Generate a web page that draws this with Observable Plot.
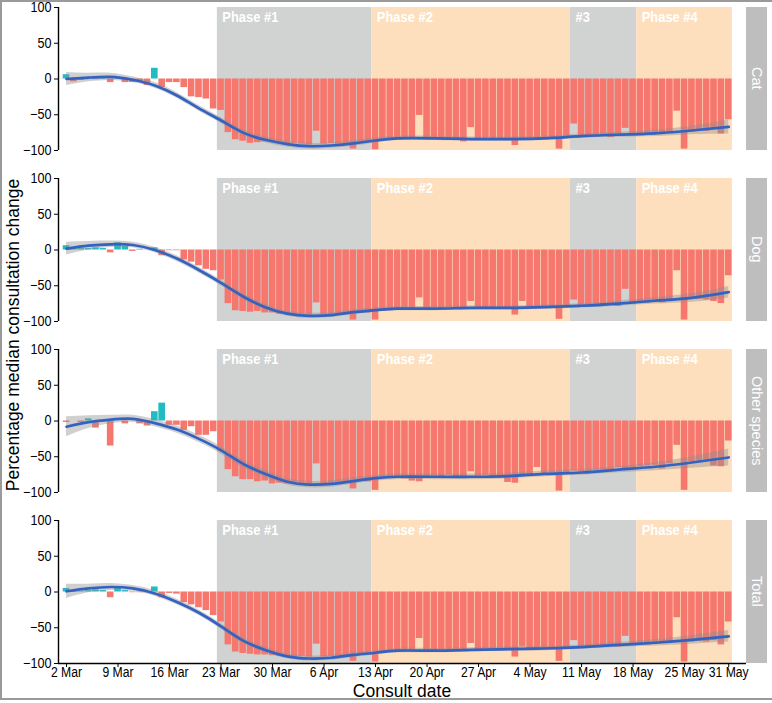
<!DOCTYPE html>
<html><head><meta charset="utf-8">
<script src="https://cdn.jsdelivr.net/npm/d3@7"></script>
<script src="https://cdn.jsdelivr.net/npm/@observablehq/plot@0.6"></script>
<style>
body{margin:0;background:#fff;font-family:"Liberation Sans",Arial,Helvetica,sans-serif;}
#wrap{position:relative;width:772px;height:703px;overflow:hidden;background:#fff;}
#frame{position:absolute;left:0;top:0;width:772px;height:700px;box-sizing:border-box;border-top:2px solid #9a9a9a;border-left:2px solid #9a9a9a;border-bottom:2px solid #9a9a9a;}
.panel{position:absolute;left:0;}
.strip{position:absolute;left:746px;width:21px;height:143px;background:#bebebe;color:#fff;font-size:14.5px;writing-mode:vertical-rl;display:flex;align-items:center;justify-content:center;white-space:nowrap;}
#ytitle{position:absolute;left:13px;top:335px;transform:translate(-50%,-50%) rotate(-90deg);font-size:17.5px;white-space:nowrap;color:#000;}
#xtitle{position:absolute;left:402px;top:683.5px;transform:translateX(-50%);font-size:17.5px;line-height:15px;white-space:nowrap;color:#000;}
</style></head>
<body><div id="wrap"><div id="frame"></div></div>
<script>
// ---------- data ----------
const firstDay = "2020-03-02"; // day index 0
const species = ["Cat", "Dog", "Other species", "Total"];

const catChange = [6,-4,-2,-1,-1,2,-5,2,-5,-5,-5,-9,15,-12,-5,-5,-12,-25,-26,-28,-42,-44,-75,-85,-87,-90,-89,-88,-88,
  -90,-91,-90,-91,-92,-73,-91,-90,-91,-90,-98,-88,-89,-99,-86,-84,
  -85,-84,-83,-51,-85,-84,-84,-83,-85,-88,-68,-84,-83,-84,-85,-84,-93,-84,-83,-84,-83,-82,-98,-83,-63,
  -80,-82,-81,-80,-82,-79,-69,-79,-77,-78,-76,-78,-74,-45,-98,-74,-72,-73,-70,-77,-57];
const dogChange = [6,3,2,2,3,2,-4,10,5,-2,1,0,3,-8,-1,-1,-14,-17,-22,-27,-29,-42,-75,-85,-86,-87,-86,-88,-88,
  -90,-90,-91,-90,-91,-74,-91,-90,-90,-89,-98,-88,-88,-98,-86,-85,
  -83,-84,-83,-67,-82,-81,-82,-81,-82,-83,-72,-81,-82,-81,-82,-83,-91,-72,-81,-82,-81,-80,-97,-80,-70,
  -79,-78,-79,-78,-77,-79,-55,-76,-75,-74,-73,-74,-72,-29,-98,-68,-69,-70,-72,-75,-36];
const otherChange = [-2,0,-2,3,-10,-1,-35,0,-4,0,-4,-7,13,25,-6,-6,-13,-8,-20,-20,-15,-42,-68,-78,-82,-82,-85,-84,-88,
  -87,-88,-87,-88,-88,-60,-88,-87,-86,-86,-95,-84,-85,-97,-80,-78,
  -80,-81,-84,-85,-78,-77,-78,-76,-79,-78,-71,-77,-76,-78,-80,-86,-87,-76,-75,-65,-74,-73,-98,-72,-70,
  -71,-70,-69,-69,-68,-65,-67,-66,-64,-63,-62,-67,-60,-34,-97,-57,-56,-55,-63,-64,-28];
const totalChange = [5,1,1,2,3,2,-8,5,2,-1,-1,-1,7,-8,-2,-3,-15,-18,-22,-26,-33,-42,-74,-84,-86,-87,-88,-88,-89,
  -90,-90,-91,-90,-91,-73,-91,-90,-90,-89,-97,-88,-88,-98,-86,-84,
  -83,-83,-84,-65,-82,-82,-81,-82,-83,-81,-72,-81,-80,-81,-80,-82,-91,-77,-80,-81,-80,-79,-97,-79,-68,
  -78,-77,-78,-77,-76,-77,-62,-75,-74,-74,-73,-72,-72,-36,-98,-70,-69,-70,-68,-74,-42];

// smoothed trend at these day indices
const smoothDays = [0,3,6,9,12,15,18,21,24,27,30,33,36,39,42,45,50,55,60,65,70,75,80,85,90];
const catSmooth   = [0,2,3,-1,-9,-23,-41,-58,-75,-85,-91,-94,-93,-90,-86,-83,-83,-84,-84,-83,-80,-78,-76,-72,-67];
const dogSmooth   = [2,6,8,7,0,-12,-28,-46,-65,-80,-89,-92,-91,-87,-84,-82,-82,-81,-81,-80,-78,-75,-71,-67,-59];
const otherSmooth = [-8,-1.5,2,3,-3,-12,-25,-41,-60,-74,-85,-89,-88,-84,-80,-78,-78,-78,-77,-74,-72,-68,-64,-58,-51];
const totalSmooth = [1,5,7,5,-2,-14,-29,-48,-68,-81,-90,-93,-92,-88,-85,-82,-82,-81,-80,-79,-77,-74,-71,-67,-62];
// half width of the confidence band at the same day indices
const catSE   = [9,6,5,4,4,4,4,4,4,4,4,4,4,4,3.5,3,3,3,3,3,3,3.5,4.5,6,10];
const dogSE   = [9,6,4.5,4,4,4,4,4,4,4,3.5,3.5,3.5,3.5,3,3,3,3,3,3,3,3.5,4.5,6,8];
const otherSE = [14,9,6,5,5,5,5,5,5,5,4.5,4.5,4.5,4.5,4,4,4,4,4,4,4,4.5,5.5,8,12];
const totalSE = [10,6,5,4,4,4,4,4,4,4,3.5,3.5,3.5,3.5,3,3,3,3,3,3,3,3.5,4.5,6,8];

// phases
const phaseLabels = ["Phase #1", "Phase #2", "#3", "Phase #4"];
const phaseStarts = ["2020-03-23", "2020-04-13", "2020-05-10", "2020-05-19"];
const phaseEnd = "2020-06-01";
const phaseFills = ["#d1d2d2", "#fddfbe", "#d1d2d2", "#fddfbe"];

// axes
const xTicks = ["2020-03-02","2020-03-09","2020-03-16","2020-03-23","2020-03-30","2020-04-06","2020-04-13",
  "2020-04-20","2020-04-27","2020-05-04","2020-05-11","2020-05-18","2020-05-25","2020-05-31"];
const xDomain = ["2020-02-29T21:50Z", "2020-06-02T10:00Z"];
const yTicks = [-100, -50, 0, 50, 100];
const yDomain = [-100, 100];

// ---------- build ----------
const DAY = 864e5;
const d0 = new Date(firstDay + "T00:00Z");
const dayDate = i => new Date(d0.getTime() + i * DAY);
const shift = (date, days) => new Date(new Date(date).getTime() + days * DAY);
const parse = s => new Date(s.length === 10 ? s + "T00:00Z" : s);

const phases = phaseLabels.map((label, k) => ({
  label,
  x1: shift(parse(phaseStarts[k]), -0.5),
  x2: shift(parse(k < phaseStarts.length - 1 ? phaseStarts[k + 1] : phaseEnd), -0.5),
  fill: phaseFills[k]
}));

const series = {
  "Cat": [catChange, catSmooth, catSE],
  "Dog": [dogChange, dogSmooth, dogSE],
  "Other species": [otherChange, otherSmooth, otherSE],
  "Total": [totalChange, totalSmooth, totalSE]
};

const panelTops = [7, 178, 349, 520];
const panelH = 143;
const wrap = document.getElementById("wrap");

const teal = "#1fbcc1", salmon = "#f6776d", blue = "#3462c1";

// narrow the glyphs a little, as in the reference typesetting
function condense(svg, selector, factor) {
  svg.querySelectorAll(selector).forEach(t => {
    const len = t.getComputedTextLength();
    if (len > 0) {
      t.setAttribute("textLength", (len * factor).toFixed(2));
      t.setAttribute("lengthAdjust", "spacingAndGlyphs");
    }
  });
}

species.forEach((name, k) => {
  const [vals, sm, se] = series[name];
  const bars = vals.map((v, i) => ({date: dayDate(i), v}));
  const smooth = smoothDays.map((d, j) => ({date: dayDate(d), y: sm[j], se: se[j]}));
  const isLast = k === species.length - 1;
  const mt = 10;
  const mb = isLast ? 40 : 10;
  const marks = [
    Plot.rect(phases, {x1: "x1", x2: "x2", y1: yDomain[0], y2: yDomain[1], fill: "fill"}),
    Plot.text(phases, {x: "x1", y: yDomain[1], text: "label", textAnchor: "start", lineAnchor: "top",
      dx: 5, dy: 4, fill: "white", fontWeight: "bold", fontSize: 14.5}),
    Plot.rect(bars, {x1: d => shift(d.date, -0.45), x2: d => shift(d.date, 0.45), y1: 0, y2: "v",
      fill: d => d.v >= 0 ? teal : salmon}),
    Plot.areaY(smooth, {x: "date", y1: d => d.y - d.se, y2: d => d.y + d.se, curve: "natural",
      fill: "#8f8f8f", fillOpacity: 0.42}),
    Plot.line(smooth, {x: "date", y: "y", curve: "natural", stroke: blue, strokeWidth: 2.7}),
    Plot.ruleX([parse(xDomain[0])], {y1: yDomain[0], y2: yDomain[1], stroke: "black", strokeWidth: 1.4})
  ];
  if (isLast) marks.push(Plot.ruleY([yDomain[0]], {stroke: "black", strokeWidth: 1.4}));
  const chart = Plot.plot({
    width: 746,
    height: panelH + mt + mb,
    marginLeft: 58,
    marginRight: 0,
    marginTop: mt,
    marginBottom: mb,
    style: {fontFamily: "'Liberation Sans', Arial, Helvetica, sans-serif", fontSize: "14px", color: "black",
      background: "transparent", overflow: "visible", maxWidth: "none"},
    x: {type: "utc", domain: xDomain.map(parse),
      axis: isLast ? "bottom" : null,
      ticks: xTicks.map(parse), tickFormat: d3.utcFormat("%-d %b"), tickSize: 4, tickPadding: 0, label: null},
    y: {domain: yDomain, ticks: yTicks, tickSize: 4, tickPadding: 3, label: null},
    marks
  });
  const holder = document.createElement("div");
  holder.className = "panel";
  holder.style.top = (panelTops[k] - mt) + "px";
  holder.appendChild(chart);
  wrap.appendChild(holder);
  condense(chart, '[aria-label="x-axis tick label"] text', 0.87);
  condense(chart, '[aria-label="y-axis tick label"] text', 0.9);
  condense(chart, '[aria-label="text"] text', 0.89);

  const strip = document.createElement("div");
  strip.className = "strip";
  strip.style.top = panelTops[k] + "px";
  strip.textContent = name;
  wrap.appendChild(strip);
});

const yt = document.createElement("div");
yt.id = "ytitle";
yt.textContent = "Percentage median consultation change";
wrap.appendChild(yt);
const xt = document.createElement("div");
xt.id = "xtitle";
xt.textContent = "Consult date";
wrap.appendChild(xt);
</script>
</body></html>
